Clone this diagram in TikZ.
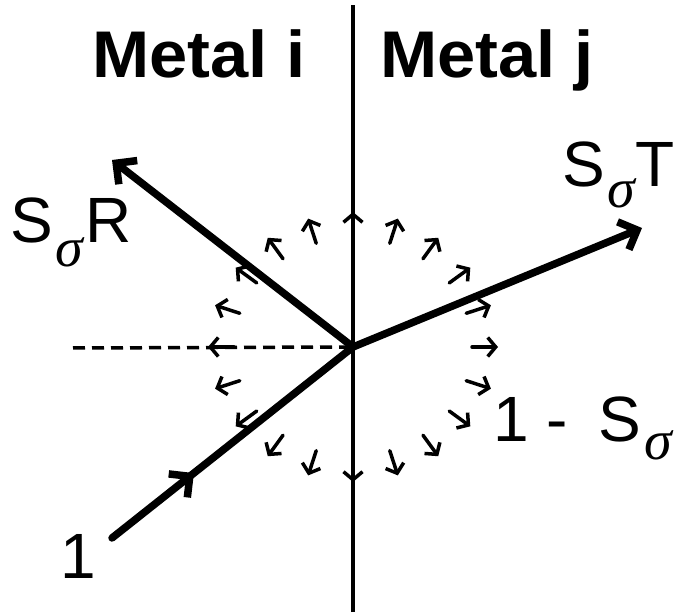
\documentclass[tikz,border=0pt]{standalone}
\usepackage{fontspec}
\setmainfont{Liberation Sans}
\newfontfamily\grk{Liberation Serif}
\usetikzlibrary{arrows.meta,decorations.markings,calc}
\newcommand{\mysig}[1]{\raisebox{-#1pt}{\fontsize{56}{60}\selectfont\grk\itshape σ}}
\begin{document}
\begin{tikzpicture}[x=1pt,y=1pt,
  ray/.style={line width=7.5pt, line cap=round},
  bigtip/.style={-{Straight Barb[length=15pt,width=30pt]}},
  smallarrow/.style={line width=3.5pt, line cap=round, -{Straight Barb[length=8pt,width=19pt]}},
  lbl/.style={inner sep=0pt, anchor=base west, font=\fontsize{64}{70}\selectfont},
  hdr/.style={inner sep=0pt, anchor=base west, font=\fontsize{66}{70}\selectfont\bfseries}]
\useasboundingbox (0,0) rectangle (684,612);
\coordinate (O) at (353,265);
\coordinate (top) at (353,607);
\coordinate (bot) at (353,0);
\coordinate (Rt) at (112,452);
\coordinate (Tt) at (642,384);
\coordinate (In) at (112,74);
\coordinate (Ds) at (73,264);
% interface
\draw[line width=3.5pt] (bot) -- (top);
% normal
\draw[line width=3.5pt, dash pattern=on 12pt off 7pt] (Ds) -- (O);
% incident
\draw[ray, postaction=decorate,
  decoration={markings, mark=at position 0.34 with {\arrow{Straight Barb[length=15pt,width=30pt]}}}]
  (In) -- (O);
% reflected and transmitted
\draw[ray, bigtip] (O) -- (Rt);
\draw[ray, bigtip] (O) -- (Tt);
% scattered arrows
\foreach \a in {0,18,...,342}
  \draw[smallarrow] ($(O)+({119*cos(\a)},{109*sin(\a)})$) -- ($(O)+({145*cos(\a)},{135*sin(\a)})$);
% labels
\node[hdr] (mi) at (92,534) {\scalebox{1.04}[1]{Metal i}};
\node[hdr] (mj) at (380,534) {\scalebox{1.04}[1]{Metal j}};
\node[lbl] (sr) at (10,369) {S\kern3pt\mysig{24}\kern2pt R};
\node[lbl] (st) at (562,425) {S\kern3pt\mysig{21}T};
\node[lbl] (ts) at (493,170) {1 -\kern31pt S\kern3pt\mysig{18}};
\node[lbl] (one) at (60,34) {1};
\end{tikzpicture}
\end{document}
